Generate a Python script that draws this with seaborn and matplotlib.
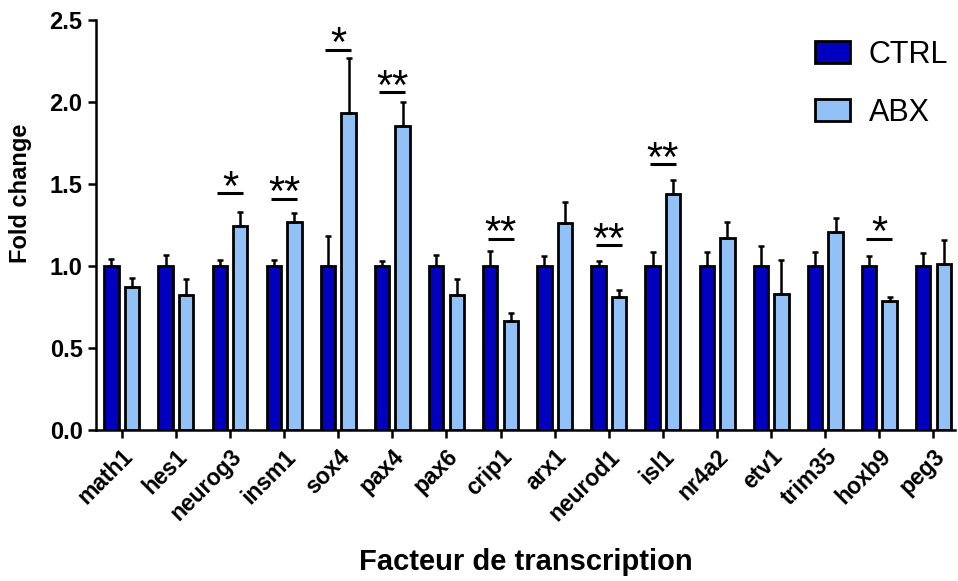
import numpy as np
import pandas as pd
import seaborn as sns
import matplotlib.pyplot as plt

genes = ['math1', 'hes1', 'neurog3', 'insm1', 'sox4', 'pax4', 'pax6', 'crip1',
         'arx1', 'neurod1', 'isl1', 'nr4a2', 'etv1', 'trim35', 'hoxb9', 'peg3']
ctrl_mean = [1.0] * 16
ctrl_err = [0.04, 0.065, 0.035, 0.035, 0.18, 0.03, 0.065, 0.09,
            0.06, 0.03, 0.085, 0.085, 0.12, 0.085, 0.06, 0.08]
abx_mean = [0.87, 0.82, 1.245, 1.27, 1.93, 1.855, 0.82, 0.665,
            1.265, 0.81, 1.44, 1.17, 0.828, 1.205, 0.787, 1.01]
abx_err = [0.055, 0.10, 0.085, 0.05, 0.34, 0.145, 0.10, 0.05,
           0.125, 0.045, 0.085, 0.10, 0.21, 0.09, 0.023, 0.15]

# significance marks: gene, stars, bar height
sig_genes = ['neurog3', 'insm1', 'sox4', 'pax4', 'crip1', 'neurod1', 'isl1', 'hoxb9']
sig_stars = ['*', '**', '*', '**', '**', '**', '**', '*']
sig_y = [1.445, 1.41, 2.32, 2.06, 1.165, 1.128, 1.62, 1.165]

colors = {'CTRL': '#0000BE', 'ABX': '#92C1F8'}

df = pd.DataFrame({
    'gene': genes * 2,
    'group': ['CTRL'] * 16 + ['ABX'] * 16,
    'fold': ctrl_mean + abx_mean,
    'err': ctrl_err + abx_err,
})

sns.set_style('ticks')
plt.rcParams['font.family'] = ['Liberation Sans', 'DejaVu Sans']
plt.rcParams['text.color'] = 'black'
plt.rcParams['axes.labelcolor'] = 'black'
plt.rcParams['xtick.color'] = 'black'
plt.rcParams['ytick.color'] = 'black'

fig = plt.figure(figsize=(9.58, 5.81), dpi=100)
ax = fig.add_axes([0.1, 0.26, 0.897, 0.7056])

sns.barplot(data=df, x='gene', y='fold', hue='group', order=genes,
            hue_order=['CTRL', 'ABX'], palette=colors, saturation=1,
            width=0.76, gap=0.3, edgecolor='black', linewidth=2,
            errorbar=None, ax=ax)

# upper error bars from the drawn bars
for container, grp in zip(ax.containers, ['CTRL', 'ABX']):
    sub = df[df.group == grp].set_index('gene').loc[genes]
    xs = [p.get_x() + p.get_width() / 2 for p in container.patches]
    ax.errorbar(xs, sub['fold'], yerr=[np.zeros(16), sub['err']], fmt='none',
                ecolor='black', elinewidth=1.8, capsize=2.5, capthick=1.8, zorder=1)

for g, s, y in zip(sig_genes, sig_stars, sig_y):
    i = genes.index(g)
    ax.plot([i - 0.24, i + 0.24], [y, y], color='black', lw=2.2, solid_capstyle='butt')
    ax.text(i, y - 0.04, s, ha='center', va='baseline', fontsize=30)

ax.set_xlim(-0.48, 15.4)
ax.set_ylim(0, 2.5)
ax.set_yticks(np.arange(0, 2.51, 0.5))
ax.set_yticklabels([f'{v:.1f}' for v in np.arange(0, 2.51, 0.5)],
                   fontsize=17, fontweight='bold')
ax.set_xticks(range(16))
ax.set_xticklabels(genes, rotation=45, ha='right', rotation_mode='anchor',
                   fontsize=16.5, fontweight='bold')
ax.tick_params(axis='both', direction='out', length=6, width=1.8)
ax.tick_params(axis='x', pad=5)
for side in ['left', 'bottom']:
    ax.spines[side].set_linewidth(1.8)
    ax.spines[side].set_color('black')
sns.despine(ax=ax)

ax.set_ylabel('Fold change', fontsize=17, fontweight='bold')
ax.yaxis.set_label_coords(-0.074, 0.576)
ax.set_xlabel('Facteur de transcription', fontsize=21, fontweight='bold', labelpad=16)

leg = ax.legend(loc='upper left', bbox_to_anchor=(0.838, 0.953), bbox_transform=fig.transFigure,
                frameon=False, fontsize=22, handlelength=1.15, handleheight=0.72,
                handletextpad=0.6, labelspacing=0.92, borderaxespad=0)
for h in leg.legend_handles:
    h.set_edgecolor('black')
    h.set_linewidth(2)

fig.savefig('out.png', dpi=100)
